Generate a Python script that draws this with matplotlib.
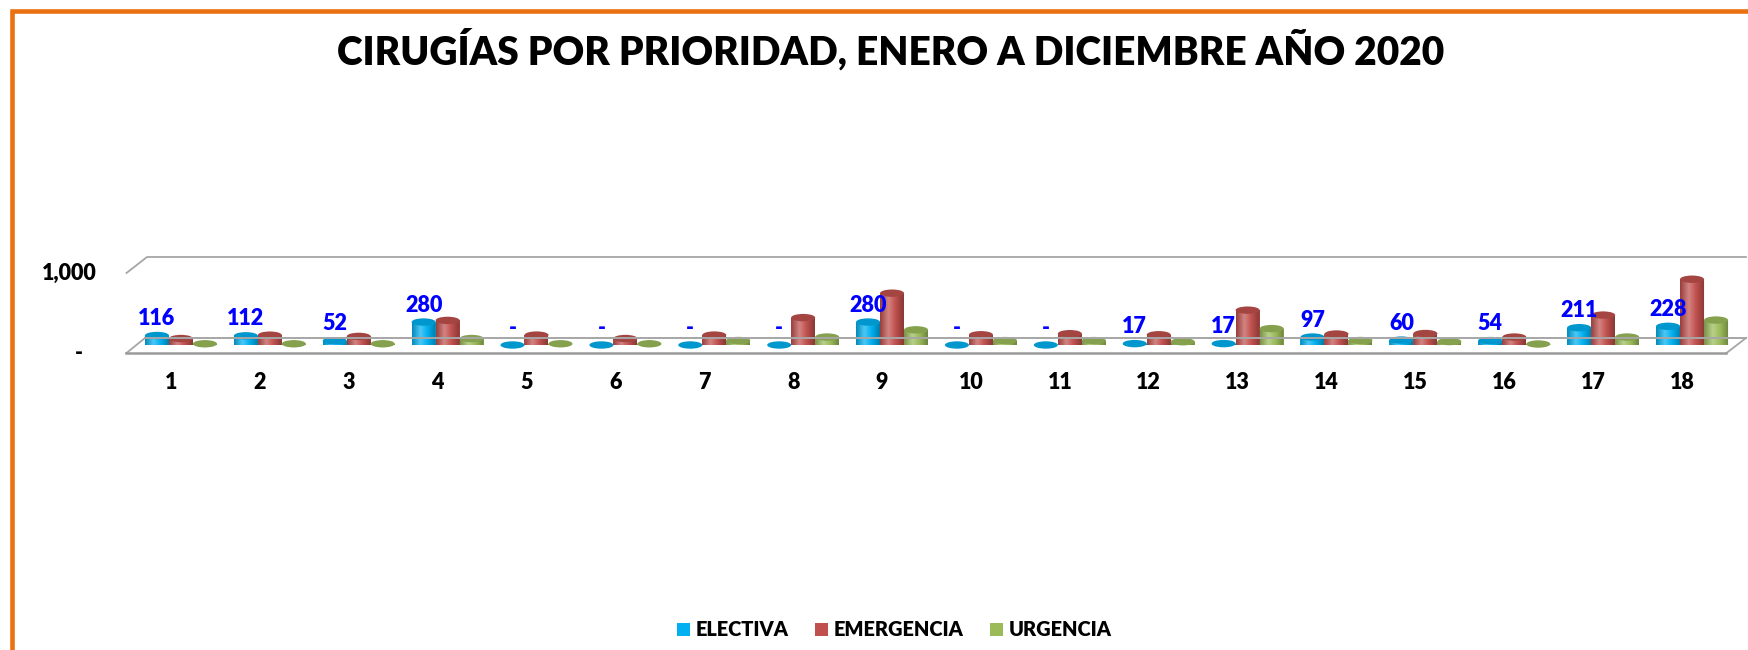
import numpy as np
import matplotlib
matplotlib.use("Agg")
import matplotlib.pyplot as plt
from matplotlib.patches import Ellipse, Rectangle
from matplotlib.path import Path
from matplotlib.colors import LinearSegmentedColormap, to_rgb
from matplotlib.lines import Line2D
from matplotlib.transforms import blended_transform_factory

# ---------------- data ----------------
categories = [str(i) for i in range(1, 19)]
electiva = [116, 112, 52, 280, 0, 0, 0, 0, 280, 0, 0, 17, 17, 97, 60, 54, 211, 228]
emergencia = [79, 120, 105, 300, 121, 79, 121, 334, 632, 125, 138, 125, 425, 134, 140, 97, 365, 802]
urgencia = [15, 15, 15, 79, 15, 15, 55, 97, 185, 54, 54, 40, 200, 55, 42, 12, 97, 304]
series_names = ["ELECTIVA", "EMERGENCIA", "URGENCIA"]
series_colors = ["#00B0F0", "#C0504D", "#9BBB59"]
y_ticks = [0, 1000]
y_ticklabels = ["-", "1,000"]
title = "CIRUGÍAS POR PRIORIDAD, ENERO A DICIEMBRE AÑO 2020"

plt.rcParams['font.family'] = ['Lato', 'DejaVu Sans']
WEIGHT = 'heavy'

W, H = 1749, 650
fig = plt.figure(figsize=(W / 100, H / 100), dpi=100)
fig.patch.set_facecolor('white')


def fx(px):
    return px / W


def fy(py):
    return 1 - py / H


def fig_line(pts, **kw):
    xs = [fx(p[0]) for p in pts]
    ys = [fy(p[1]) for p in pts]
    fig.add_artist(Line2D(xs, ys, transform=fig.transFigure, **kw))


# ---------------- orange border ----------------
fig_line([(12.5, H + 5), (12.5, 10.5), (W + 5, 10.5)], color='#E97112',
         linewidth=3.3, solid_joinstyle='miter')

# ---------------- 3D frame (floor + back wall gridline) ----------------
gray = '#A6A6A6'
fig_line([(126.5, 273), (147, 257), (1746, 257)], color=gray, linewidth=1.3)
fig_line([(145, 338), (1746, 338)], color=gray, linewidth=1.4)
fig_line([(126.5, 353), (145, 338)], color=gray, linewidth=1.3)
fig_line([(1726.5, 353), (1746, 338)], color=gray, linewidth=1.3)
fig_line([(126.5, 353), (1726.5, 353)], color='#9A9A9A', linewidth=1.8)

# ---------------- front plane axes (labels) ----------------
x = np.arange(1, len(categories) + 1)
ax = fig.add_axes([fx(126.5), fy(353), 1600 / W, 80 / H])
ax.set_xlim(0.5, len(categories) + 0.5)
ax.set_ylim(0, 1000)
ax.patch.set_visible(False)
for sp in ax.spines.values():
    sp.set_visible(False)
ax.set_xticks(x, categories, fontsize=15.5, fontweight=WEIGHT)
ax.tick_params(axis='x', length=0, pad=14)
ax.set_yticks([])
trans = blended_transform_factory(ax.transAxes, ax.transData)
ax.text(-0.0185, y_ticks[1], y_ticklabels[1], transform=trans, ha='right', va='center',
        fontsize=15.5, fontweight=WEIGHT)
ax.text(-0.0297, y_ticks[0], y_ticklabels[0], transform=trans, ha='center', va='center',
        fontsize=15.5, fontweight=WEIGHT)

# ---------------- bar plane axes ----------------
axb = fig.add_axes([fx(136.5), fy(345), 1600 / W, 82 / H])
axb.set_xlim(0.5, len(categories) + 0.5)
axb.set_ylim(0, 1000)
axb.axis('off')

w = 0.27
e = 90.0  # ellipse height in data units
offsets = [-w, 0.0, w]
all_vals = [electiva, emergencia, urgencia]


def shade(c, f):
    r, g, b = to_rgb(c)
    return (r * f, g * f, b * f)


def tint(c, f):
    r, g, b = to_rgb(c)
    return (r + (1 - r) * f, g + (1 - g) * f, b + (1 - b) * f)


grad = np.linspace(0, 1, 128).reshape(1, -1)
for si, (vals, col, off) in enumerate(zip(all_vals, series_colors, offsets)):
    z = 2 + si
    cmap = LinearSegmentedColormap.from_list(
        f"cyl{si}", [(0.0, shade(col, 0.78)), (0.35, tint(col, 0.30)),
                     (0.65, col), (1.0, shade(col, 0.70))])
    topc = shade(col, 0.86)
    bars = axb.bar(x + off, vals, width=w, color=col, linewidth=0, zorder=z,
                   clip_on=False, label=series_names[si])
    for xi, v in zip(x + off, vals):
        x0, x1 = xi - w / 2, xi + w / 2
        theta = np.linspace(np.pi, 2 * np.pi, 40)
        arc = np.column_stack([xi + (w / 2) * np.cos(theta), (e / 2) * np.sin(theta)])
        verts = np.vstack([[[x0, v], [x0, 0]], arc, [[x1, 0], [x1, v], [x0, v]]])
        codes = [Path.MOVETO] + [Path.LINETO] * (len(verts) - 2) + [Path.CLOSEPOLY]
        im = axb.imshow(grad, cmap=cmap, extent=[x0, x1, -e / 2, max(v, 1)],
                        aspect='auto', zorder=z + 0.1, interpolation='bicubic')
        im.set_clip_path(Path(verts, codes), axb.transData)
        axb.add_patch(Ellipse((xi, v), w, e, facecolor=topc, edgecolor='none',
                              zorder=z + 0.2, clip_on=False))
axb.set_xlim(0.5, len(categories) + 0.5)
axb.set_ylim(0, 1000)

# data labels (ELECTIVA only)
for xi, v in zip(x + offsets[0], electiva):
    lbl = f"{v:,}" if v else "-"
    axb.annotate(lbl, (xi, v), xytext=(0, 7.5), textcoords='offset points',
                 ha='center', va='baseline', color='#0000FF', fontsize=15.5,
                 fontweight=WEIGHT, zorder=20, annotation_clip=False)

# ---------------- title ----------------
fig.text(fx(891), fy(65), title, ha='center', va='baseline', fontsize=28,
         fontweight=WEIGHT, color='black')

# ---------------- legend ----------------
handles = [Rectangle((0, 0), 1, 1, facecolor=c, edgecolor='none') for c in series_colors]
fig.legend(handles, series_names, loc='center', bbox_to_anchor=(fx(894.5), fy(630)),
           ncol=3, frameon=False, prop=dict(weight=WEIGHT, size=14.4),
           handlelength=0.65, handleheight=0.65, handletextpad=0.3, columnspacing=1.3)

fig.savefig("out.png", dpi=100, facecolor='white')
